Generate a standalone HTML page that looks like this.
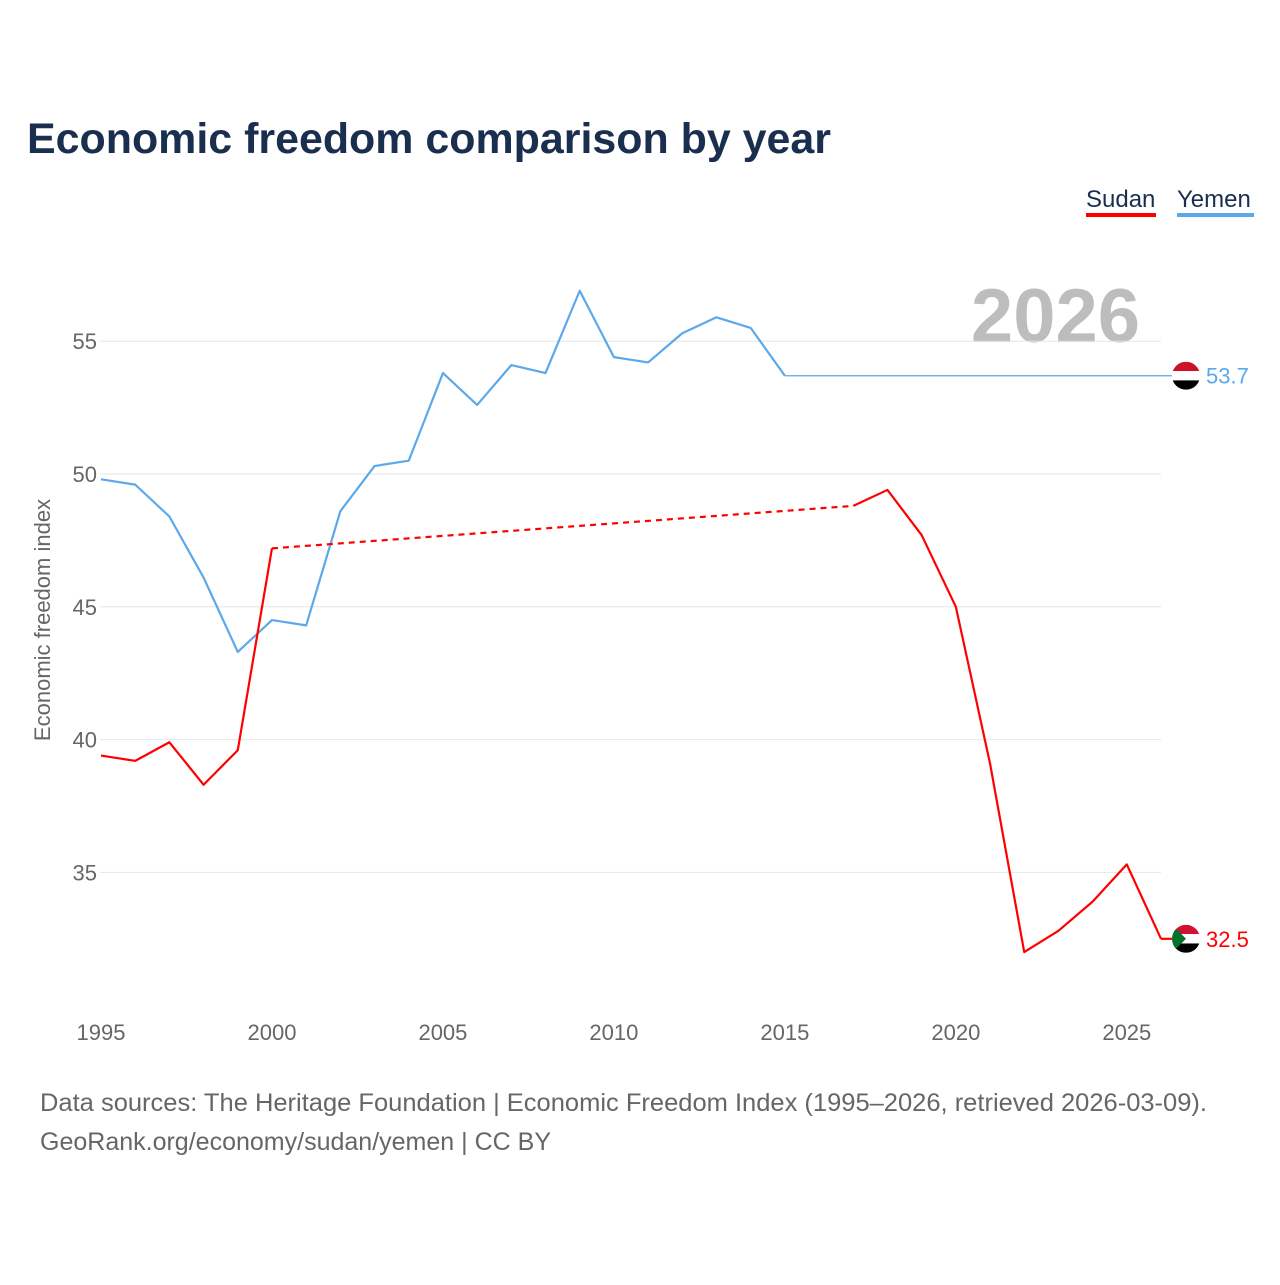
<!DOCTYPE html>
<html><head><meta charset="utf-8">
<style>
body{margin:0;background:#fff;width:1280px;height:1280px;overflow:hidden;font-family:"Liberation Sans",sans-serif}
</style></head>
<body>
<svg width="1280" height="1280" id="chart" style="font-family:'Liberation Sans',sans-serif">
<text x="27" y="153" font-size="43" font-weight="bold" fill="#1a2e4f" textLength="804" lengthAdjust="spacingAndGlyphs">Economic freedom comparison by year</text>
<g>
<text x="1086" y="207" font-size="24" fill="#1a2e4f">Sudan</text>
<rect x="1086" y="213" width="70" height="4" fill="#ff0000"/>
<text x="1177" y="207" font-size="24" fill="#1a2e4f">Yemen</text>
<rect x="1177" y="213" width="77" height="4" fill="#5ba8ea"/>
</g>
<text x="1140" y="342" font-size="76" font-weight="bold" fill="#bdbdbd" text-anchor="end">2026</text>
<g id="grid"></g><g id="lines"></g>
<text transform="translate(50,620) rotate(-90)" font-size="22" fill="#666" text-anchor="middle">Economic freedom index</text>
<text x="40" y="1111" font-size="25" fill="#666" textLength="1167" lengthAdjust="spacingAndGlyphs">Data sources: The Heritage Foundation | Economic Freedom Index (1995–2026, retrieved 2026-03-09).</text>
<text x="40" y="1150" font-size="25" fill="#666" textLength="511" lengthAdjust="spacingAndGlyphs">GeoRank.org/economy/sudan/yemen | CC BY</text>
</svg>
<script>
const years=[1995,1996,1997,1998,1999,2000,2001,2002,2003,2004,2005,2006,2007,2008,2009,2010,2011,2012,2013,2014,2015,2016,2017,2018,2019,2020,2021,2022,2023,2024,2025,2026];
const yemen=[49.8,49.6,48.4,46.1,43.3,44.5,44.3,48.6,50.3,50.5,53.8,52.6,54.1,53.8,56.9,54.4,54.2,55.3,55.9,55.5,53.7,null,null,null,null,null,null,null,null,null,null,null];
const sudan=[39.4,39.2,39.9,38.3,39.6,47.2,null,null,null,null,null,null,null,null,null,null,null,null,null,null,null,null,48.8,49.4,47.7,45.0,39.1,32.0,32.8,33.9,35.3,32.5];
const yTicks=[35,40,45,50,55];
const xTicks=[1995,2000,2005,2010,2015,2020,2025];
const NS="http://www.w3.org/2000/svg";
const X=y=>101+(y-1995)*(1161-101)/31;
const Y=v=>474-(v-50)*26.56;
const grid=document.getElementById('grid'),lines=document.getElementById('lines');
function mk(tag,attrs,parent){const e=document.createElementNS(NS,tag);for(const k in attrs)e.setAttribute(k,attrs[k]);parent.appendChild(e);return e;}
yTicks.forEach(t=>{
 const l=mk('line',{x1:100,x2:1161,y1:Y(t),y2:Y(t),stroke:'#e6e6e6'},grid);
 
 
 const tx=mk('text',{x:97,y:Y(t)+8,'font-size':22,fill:'#666','text-anchor':'end'},grid);tx.textContent=t;
 
 
});
xTicks.forEach(t=>{
 const tx=mk('text',{x:X(t),y:1040,'font-size':22,fill:'#666','text-anchor':'middle'},grid);tx.textContent=t;
 
 
});
function draw(vals,color,name){
 let seg=[],segs=[];
 vals.forEach((v,i)=>{if(v==null){if(seg.length)segs.push(seg);seg=[];}else seg.push([X(years[i]),Y(v)]);});
 if(seg.length)segs.push(seg);
 segs.forEach((s,j)=>{
  const p=mk('polyline',{points:s.map(q=>q.join(',')).join(' '),fill:'none',stroke:color,'stroke-width':2.2,'stroke-linejoin':'round'},lines);
  
  
  if(j>0){const a=segs[j-1][segs[j-1].length-1],b=s[0];
   const d=mk('line',{x1:a[0],y1:a[1],x2:b[0],y2:b[1],stroke:color,'stroke-width':2.2,'stroke-dasharray':'6,5'},lines);
   
   }
 });
 let li=vals.length-1;while(vals[li]==null)li--;
 const f=mk('line',{x1:X(years[li]),y1:Y(vals[li]),x2:1172,y2:Y(vals[li]),stroke:color,'stroke-width':li<vals.length-1?1.3:2.2},lines);
 
 
 return vals[li];
}
const yv=draw(yemen,'#5ba8ea','yemen');
const sv=draw(sudan,'#ff0000','sudan');
function flag(cy,type,val,color){
 const g=mk('g',{},lines);
 
 
 const cx=1186,r=14;
 const cp=mk('clipPath',{id:'c'+type},g);
 mk('circle',{cx:cx,cy:cy,r:r},cp);
 const gg=mk('g',{'clip-path':'url(#c'+type+')'},g);
 mk('rect',{x:cx-r,y:cy-r,width:2*r,height:2*r/3,fill:type=='sudan'?'#d21034':'#ce1126'},gg);
 mk('rect',{x:cx-r,y:cy-r/3,width:2*r,height:2*r/3,fill:'#fff'},gg);
 mk('rect',{x:cx-r,y:cy+r/3,width:2*r,height:2*r/3,fill:'#000'},gg);
 if(type=='sudan')mk('polygon',{points:`${cx-r},${cy-r} ${cx},${cy} ${cx-r},${cy+r}`,fill:'#007229'},gg);
 const t=mk('text',{x:1206,y:cy+8,'font-size':22,fill:color},g);t.textContent=val.toFixed(1);
}
flag(Y(yv),'yemen',yv,'#5ba8ea');
flag(Y(sv),'sudan',sv,'#ff0000');
</script>
</body></html>
